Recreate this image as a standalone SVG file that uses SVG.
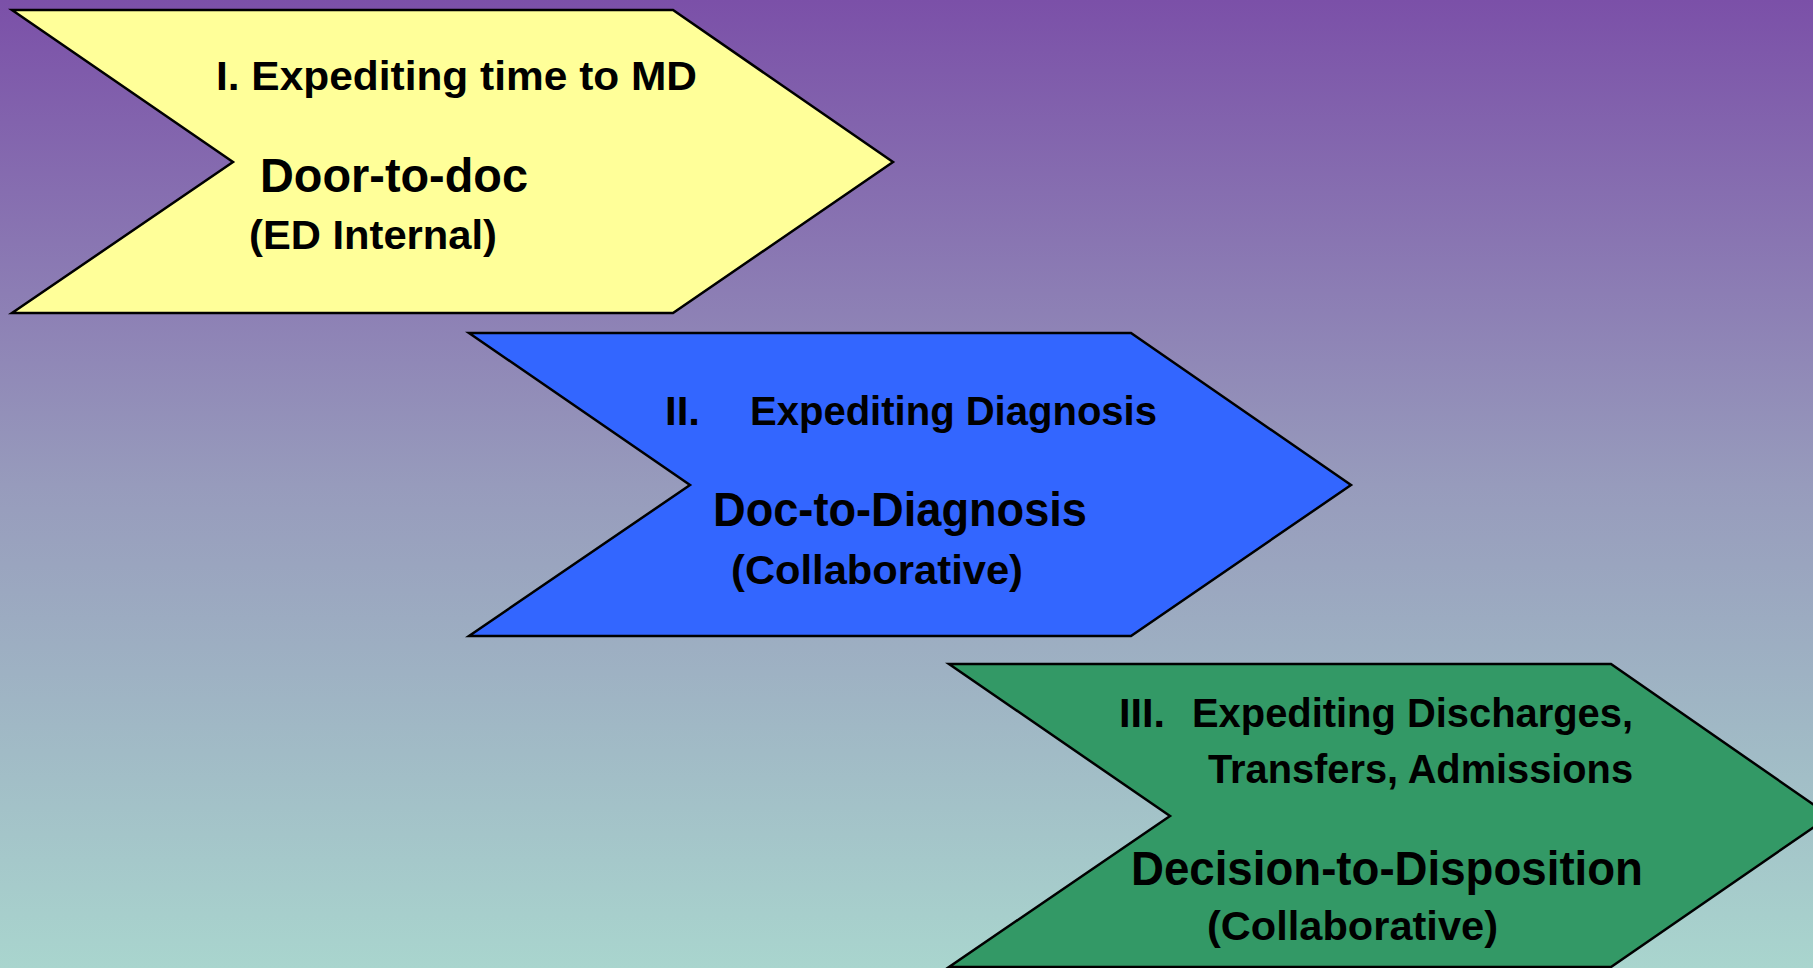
<svg xmlns="http://www.w3.org/2000/svg" width="1813" height="968" viewBox="0 0 1813 968">
<defs>
<linearGradient id="bg" x1="0" y1="0" x2="0" y2="1">
<stop offset="0" stop-color="#7B50A8"/>
<stop offset="0.5" stop-color="#979BBC"/>
<stop offset="1" stop-color="#A9D5CE"/>
</linearGradient>
<style>
.chev{stroke:#000;stroke-width:2.5;stroke-linejoin:miter}
.t{font-family:"Liberation Sans",Arial,sans-serif;font-weight:bold;fill:#000}
.s{font-size:41px}
.l{font-size:48px}
</style>
</defs>
<rect x="0" y="0" width="1813" height="968" fill="url(#bg)"/>
<g id="connectors"/>
<g id="node1">
<polygon class="chev" fill="#FFFF99" points="12,10 673,10 893,162 673,313 12,313 233,162"/>
<text class="t s" x="216" y="90" textLength="481" lengthAdjust="spacingAndGlyphs">I. Expediting time to MD</text>
<text class="t l" x="260" y="192" textLength="268" lengthAdjust="spacingAndGlyphs">Door-to-doc</text>
<text class="t s" x="249" y="249" textLength="248" lengthAdjust="spacingAndGlyphs">(ED Internal)</text>
</g>
<g id="node2">
<polygon class="chev" fill="#3366FF" points="469,333 1131,333 1351,485 1131,636 469,636 690,485"/>
<text class="t s" x="665" y="425" textLength="35" lengthAdjust="spacingAndGlyphs">II.</text>
<text class="t s" x="750" y="425" textLength="407" lengthAdjust="spacingAndGlyphs">Expediting Diagnosis</text>
<text class="t l" x="713" y="526" textLength="374" lengthAdjust="spacingAndGlyphs">Doc-to-Diagnosis</text>
<text class="t s" x="731" y="584" textLength="292" lengthAdjust="spacingAndGlyphs">(Collaborative)</text>
</g>
<g id="node3">
<polygon class="chev" fill="#339966" points="949,664 1611,664 1830,816 1611,967 949,967 1170,816"/>
<text class="t s" x="1119" y="727" textLength="46" lengthAdjust="spacingAndGlyphs">III.</text>
<text class="t s" x="1192" y="727" textLength="441" lengthAdjust="spacingAndGlyphs">Expediting Discharges,</text>
<text class="t s" x="1208" y="783" textLength="425" lengthAdjust="spacingAndGlyphs">Transfers, Admissions</text>
<text class="t l" x="1131" y="885" textLength="512" lengthAdjust="spacingAndGlyphs">Decision-to-Disposition</text>
<text class="t s" x="1207" y="940" textLength="291" lengthAdjust="spacingAndGlyphs">(Collaborative)</text>
</g>
</svg>
